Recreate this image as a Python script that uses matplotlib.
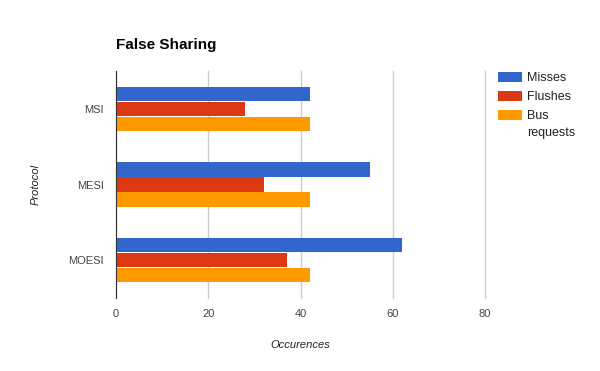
import matplotlib.pyplot as plt
import numpy as np

plt.rcParams['font.family'] = ['Liberation Sans', 'DejaVu Sans']

# Datos
protocols = ['MSI', 'MESI', 'MOESI']
series = ['Misses', 'Flushes', 'Bus']
misses = [42, 55, 62]
flushes = [28, 32, 37]
bus_requests = [42, 42, 42]
colores = ['#3366cc', '#dc3912', '#ff9900']
xticks = [0, 20, 40, 60, 80]

fig = plt.figure(figsize=(6, 3.71), dpi=100)
ax = fig.add_axes([116 / 600, 1 - 298 / 371, (485 - 116) / 600, (298 - 71) / 371])

y = np.arange(len(protocols))
h = 0.19
step = 0.2
for i, (vals, name) in enumerate(zip([misses, flushes, bus_requests], series)):
    ax.barh(y + (i - 1) * step, vals, height=h, color=colores[i], label=name, zorder=3)

ax.set_xlim(0, 80)
ax.set_ylim(2.5, -0.5)
ax.set_xticks(xticks)
ax.set_yticks(y)
ax.set_yticklabels(protocols)
ax.grid(axis='x', color='#cccccc', linewidth=1, zorder=0)
for line in ax.get_xgridlines():
    line.set_clip_on(False)
for s in ['top', 'right', 'bottom']:
    ax.spines[s].set_visible(False)
ax.spines['left'].set_color('#333333')
ax.spines['left'].set_zorder(4)
ax.tick_params(length=0, labelsize=8, labelcolor='#444444')
ax.tick_params(axis='x', pad=8)
ax.tick_params(axis='y', pad=9)

ax.set_xlabel('Occurences', fontsize=8, style='italic', color='#222222', labelpad=15)
ax.set_ylabel('Protocol', fontsize=8, style='italic', color='#222222', labelpad=20)
fig.text(116 / 600, 1 - 45 / 371, 'False Sharing', fontsize=11, fontweight='bold',
         va='center', ha='left', color='#000000')

leg = fig.legend(loc='upper left', bbox_to_anchor=(493 / 600, 1 - 67 / 371), frameon=False,
                 fontsize=9, handlelength=1.9, handleheight=0.8, labelspacing=0.55,
                 handletextpad=0.4, borderaxespad=0, labelcolor='#222222')

# segunda línea de la etiqueta "Bus requests"
fig.canvas.draw()
bb = leg.get_texts()[2].get_window_extent().transformed(fig.transFigure.inverted())
fig.text(bb.x0, bb.y0 - 5 / 371, 'requests', fontsize=9, color='#222222',
         ha='left', va='top')

fig.savefig('out.png', dpi=100)
